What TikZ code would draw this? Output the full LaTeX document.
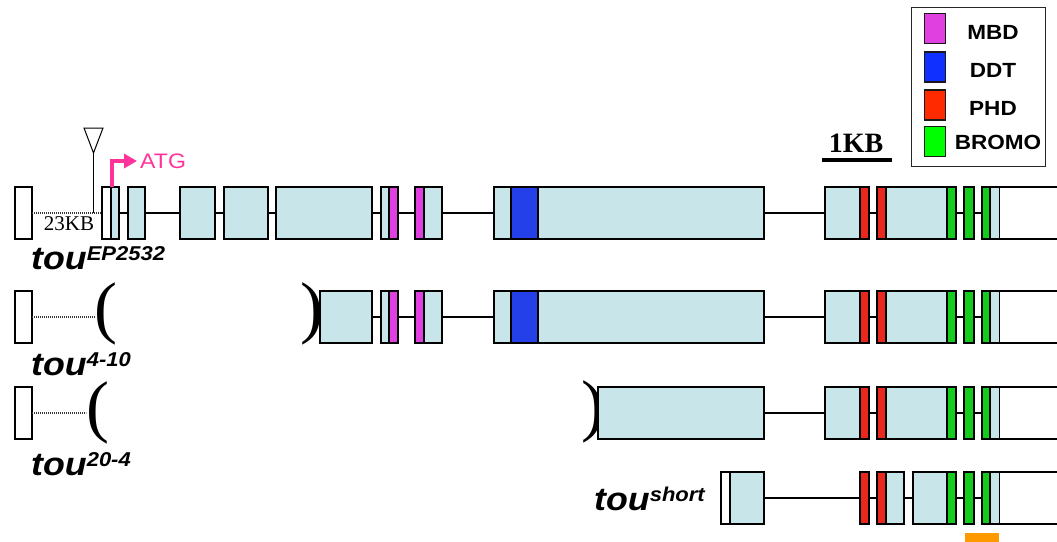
\documentclass[tikz,border=0pt]{standalone}
\usepackage{fontspec}
\setmainfont{Liberation Serif}
\newfontfamily\hv[FakeStretch=1.1]{Liberation Sans}
\newfontfamily\hvlabel[FakeStretch=1.1]{Liberation Sans}
\usetikzlibrary{arrows.meta}

\definecolor{exonblue}{HTML}{C8E5E9}
\definecolor{mbd}{HTML}{E040E0}
\definecolor{ddt}{HTML}{2440E8}
\definecolor{phd}{HTML}{E8281E}
\definecolor{bromo}{HTML}{14CC1E}
\definecolor{mbdkey}{HTML}{E040E0}
\definecolor{ddtkey}{HTML}{1030FF}
\definecolor{phdkey}{HTML}{FF2A00}
\definecolor{bromokey}{HTML}{00FF00}
\definecolor{atgpink}{HTML}{FF3399}
\definecolor{probe}{HTML}{FF9900}

\tikzset{
  gbox/.style={draw=black, line width=1.2pt, inner sep=0pt, outer sep=0pt, minimum height=52pt},
  exon/.style={gbox, fill=exonblue},
  utr/.style={gbox, fill=white},
  mbdbox/.style={gbox, fill=mbd},
  ddtbox/.style={gbox, fill=ddt},
  phdbox/.style={gbox, fill=phd},
  bromobox/.style={gbox, fill=bromo},
  intron/.style={line width=1.1pt, black},
  gapline/.style={line width=1.1pt, black!80, dash pattern=on 1pt off 1pt},
  paren/.style={inner sep=0pt, font=\fontsize{69}{69}\selectfont},
  allele/.style={inner sep=0pt, anchor=base west},
  keybox/.style={draw=black!90, line width=1.2pt, inner sep=0pt, minimum width=21pt, minimum height=30pt},
  keytext/.style={inner sep=0pt, font=\hv\bfseries\fontsize{20.5}{20.5}\selectfont},
}

% segment of a gene model: name, left x, right x, row y, style
\newcommand\seg[5]{\node[#5, minimum width={(#3)-(#2)}] (#1) at ({((#2)+(#3))/2},#4) {};}

% allele name with superscript
\newcommand\alleletext[1]{{\hvlabel\bfseries\itshape\fontsize{32.5}{32.5}\selectfont tou}\raisebox{9pt}{\hvlabel\bfseries\itshape\fontsize{20}{20}\selectfont #1}}

% exons 5-7 with the MBD and DDT domains
\newcommand\midexons[2]{%
  \seg{e5#1}{381}{398}{#2}{exon}
  \seg{m1#1}{389}{398}{#2}{mbdbox}
  \seg{e6#1}{415}{442}{#2}{exon}
  \seg{m2#1}{415}{424}{#2}{mbdbox}
  \seg{e7#1}{494}{764}{#2}{exon}
  \seg{d1#1}{511}{538}{#2}{ddtbox}
  \draw[intron] (e5#1.east) -- (e6#1.west);
  \draw[intron] (e6#1.east) -- (e7#1.west);
}

% 3' exons with the PHD and bromo domains
\newcommand\tailexons[2]{%
  \seg{e8#1}{825}{869}{#2}{exon}
  \seg{p1#1}{860}{869}{#2}{phdbox}
  \seg{e9#1}{877}{956}{#2}{exon}
  \seg{p2#1}{877}{886}{#2}{phdbox}
  \seg{b1#1}{947}{956}{#2}{bromobox}
  \seg{e10#1}{964}{974}{#2}{bromobox}
  \seg{e11#1}{982}{999.5}{#2}{exon}
  \seg{b3#1}{982}{990}{#2}{bromobox}
  \seg{utr#1}{999.5}{1075}{#2}{utr}
  \draw[intron] (e7#1.east) -- (e8#1.west);
  \draw[intron] (e8#1.east) -- (e9#1.west);
  \draw[intron] (e9#1.east) -- (e10#1.west);
  \draw[intron] (e10#1.east) -- (e11#1.west);
}

\begin{document}
\begin{tikzpicture}[x=1pt, y=-1pt]
\useasboundingbox (0,0) rectangle (1057,541);
\clip (0,0) rectangle (1057,541);

% ---------- full-length gene with the P-element insertion ----------
\seg{u1a}{15}{32}{213}{utr}
\seg{e0a}{102}{111}{213}{utr}
\seg{e0b}{111}{119}{213}{exon}
\seg{e1a}{128}{145}{213}{exon}
\seg{e2a}{180}{215}{213}{exon}
\seg{e3a}{224}{268}{213}{exon}
\seg{e4a}{276}{372}{213}{exon}
\draw[gapline] (u1a.east) -- (e0a.west);
\draw[intron] (e0b.east) -- (e1a.west);
\draw[intron] (e1a.east) -- (e2a.west);
\draw[intron] (e2a.east) -- (e3a.west);
\draw[intron] (e3a.east) -- (e4a.west);
\draw[intron] (e4a.east) -- (381,213);
\midexons{a}{213}
\tailexons{a}{213}
\node[inner sep=0pt, font=\fontsize{21}{21}\selectfont] (len) at (69,224) {23KB};

% insertion site
\draw[line width=1pt] (84,128) -- (103,128) -- (93.5,153) -- cycle;
\coordinate (ins) at (93.5,153);
\draw[line width=1pt] (ins) -- (ins |- u1a.east);

% start codon
\node[anchor=west, inner sep=0pt, text=atgpink, font=\hv\fontsize{21}{21}\selectfont] (atg) at (140,161) {ATG};
\draw[atgpink, line width=4pt, -{Triangle[length=13pt,width=14pt]}]
  ([xshift=0.7pt]e0a.north east) |- ([xshift=-3pt]atg.west);

\node[allele] (laba) at (31,269) {\alleletext{EP2532}};

% ---------- tou 4-10 ----------
\seg{u1b}{15}{32}{317}{utr}
\node[paren] (lpb) at (106,314) {(};
\node[paren] (rpb) at (311.5,314) {)};
\draw[gapline] (u1b.east) -- (lpb.west |- u1b.east);
\seg{e4b}{320}{372}{317}{exon}
\draw[intron] (e4b.east) -- (381,317);
\midexons{b}{317}
\tailexons{b}{317}
\node[allele] (labb) at (31,375) {\alleletext{4-10}};

% ---------- tou 20-4 ----------
\seg{u1c}{15}{32}{413}{utr}
\node[paren] (lpc) at (97.7,413) {(};
\node[paren] (rpc) at (592.5,412) {)};
\draw[gapline] (u1c.east) -- (lpc.west |- u1c.east);
\seg{e7c}{598}{764}{413}{exon}
\tailexons{c}{413}
\node[allele] (labc) at (31,475) {\alleletext{20-4}};

% ---------- short isoform ----------
\seg{e0d}{721}{730}{498}{utr}
\seg{e7d}{730}{764}{498}{exon}
\seg{p1d}{860}{869}{498}{phdbox}
\seg{e9d}{877}{904}{498}{exon}
\seg{p2d}{877}{886}{498}{phdbox}
\seg{e9e}{913}{956}{498}{exon}
\seg{b1d}{947}{956}{498}{bromobox}
\seg{e10d}{964}{974}{498}{bromobox}
\seg{e11d}{982}{999.5}{498}{exon}
\seg{b3d}{982}{990}{498}{bromobox}
\seg{utrd}{999.5}{1075}{498}{utr}
\draw[intron] (e7d.east) -- (p1d.west);
\draw[intron] (p1d.east) -- (e9d.west);
\draw[intron] (e9d.east) -- (e9e.west);
\draw[intron] (e9e.east) -- (e10d.west);
\draw[intron] (e10d.east) -- (e11d.west);
\node[allele] (labd) at (594,510) {\alleletext{short}};

% probe
\node[fill=probe, inner sep=0pt, minimum width=34pt, minimum height=10pt] (probe) at (982,538) {};

% ---------- scale bar ----------
\node[anchor=base, inner sep=0pt, font=\bfseries\fontsize{28}{28}\selectfont] (kb) at (856,152) {1KB};
\draw[line width=4pt] (822,159.5) -- (892,159.5);

% ---------- key ----------
\node[draw=black!85, line width=1.3pt, inner sep=0pt, minimum width=134pt, minimum height=159pt] (key) at (978.7,87) {};
\node[keybox, fill=mbdkey] (kmbd) at (935.2,28.7) {};
\node[keybox, fill=ddtkey] (kddt) at (935.2,67) {};
\node[keybox, fill=phdkey] (kphd) at (935.2,105) {};
\node[keybox, fill=bromokey] (kbromo) at (935.2,141.3) {};
\node[keytext] (tmbd) at (993,32) {MBD};
\node[keytext] (tddt) at (993,70) {DDT};
\node[keytext] (tphd) at (993,108) {PHD};
\node[keytext] (tbromo) at (998,142) {BROMO};
\end{tikzpicture}
\end{document}
